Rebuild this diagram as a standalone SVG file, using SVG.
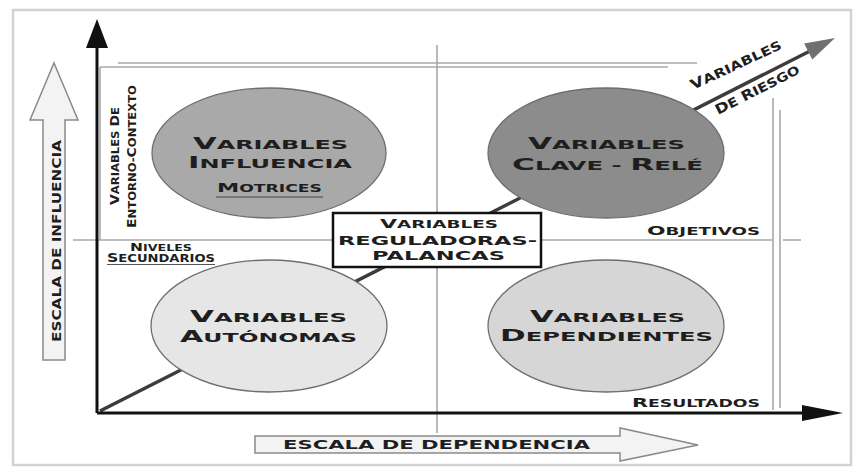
<svg xmlns="http://www.w3.org/2000/svg" width="856" height="470" viewBox="0 0 856 470">
<style>
text{font-family:"DejaVu Sans","Liberation Sans",sans-serif;fill:#1e1e1e}
.big{font-size:16px}
.sm{font-size:12.5px;font-weight:bold}
.lbl{font-size:10px;font-weight:bold}
.lblb{font-size:12px;font-weight:bold}
.grid{stroke:#a8a8a8;stroke-width:1.6;fill:none}
.ell{stroke:#6e6e6e;stroke-width:1.3}
.hollow{fill:#f3f3f3;stroke:#8a8a8a;stroke-width:1.5}
</style>
<rect x="13" y="10" width="838" height="455" fill="#fff" stroke="#d2d2d2" stroke-width="2.5"/>

<g id="grid">
<line class="grid" x1="118" y1="63" x2="697" y2="63"/>
<line class="grid" x1="100" y1="67" x2="668" y2="67" stroke="#c4c4c4"/>
<line class="grid" x1="100" y1="67" x2="100" y2="240"/>
<line class="grid" x1="437" y1="45" x2="437" y2="433"/>
<line class="grid" x1="73" y1="240" x2="773" y2="240"/>
<line class="grid" x1="783" y1="240" x2="801" y2="240"/>
<line class="grid" x1="773" y1="98" x2="773" y2="410"/>
<line class="grid" x1="780" y1="110" x2="780" y2="408" stroke="#c8c8c8"/>
</g>

<g id="scale-influencia">
<polygon class="hollow" points="54,63 78,120 65,120 65,360 43,360 43,120 30,120"/>
<text class="lblb" transform="translate(61,342) rotate(-90)" textLength="202" lengthAdjust="spacingAndGlyphs">ESCALA DE INFLUENCIA</text>
</g>

<g id="scale-dependencia">
<polygon class="hollow" points="255,436 620,436 620,428 698,445 620,461 620,453 255,453"/>
<text class="lblb" x="283" y="449" textLength="307" lengthAdjust="spacingAndGlyphs">ESCALA DE DEPENDENCIA</text>
</g>

<g id="connectors">
<line x1="100" y1="411" x2="812" y2="50" stroke="#3c3c3c" stroke-width="3.5"/>
<polygon points="835,38 812.3,59.6 804.1,43.6" fill="#707070"/>
<line x1="97" y1="413" x2="97" y2="45" stroke="#111" stroke-width="3"/>
<polygon points="97,19 108,48 86,48" fill="#111"/>
<line x1="97" y1="413" x2="805" y2="413" stroke="#111" stroke-width="3"/>
<polygon points="843,413 802,405 802,421" fill="#111"/>
</g>

<g id="riesgo-label">
<text class="sm" transform="translate(693,90) rotate(-25)" textLength="99" lengthAdjust="spacingAndGlyphs"><tspan font-size="14">V</tspan>ARIABLES</text>
<text class="sm" transform="translate(718,115) rotate(-27)" textLength="93" lengthAdjust="spacingAndGlyphs"><tspan font-size="14">D</tspan>E <tspan font-size="14">R</tspan>IESGO</text>
</g>

<g id="entorno-label">
<text class="lbl" transform="translate(119,205) rotate(-90)" textLength="98" lengthAdjust="spacingAndGlyphs"><tspan font-size="12">V</tspan>ARIABLES <tspan font-size="12">D</tspan>E</text>
<text class="lbl" transform="translate(136,228) rotate(-90)" textLength="143" lengthAdjust="spacingAndGlyphs"><tspan font-size="12">E</tspan>NTORNO-<tspan font-size="12">C</tspan>ONTEXTO</text>
</g>

<g id="niveles-label">
<text class="lbl" x="130" y="251" textLength="62" lengthAdjust="spacingAndGlyphs" style="font-size:9px"><tspan style="font-size:11px">N</tspan>IVELES</text>
<text class="lbl" x="107" y="262" textLength="108" lengthAdjust="spacingAndGlyphs"><tspan font-size="12">S</tspan>ECUNDARIOS</text>
<line x1="107" y1="264.5" x2="215" y2="264.5" stroke="#555" stroke-width="1"/>
</g>

<g id="objetivos-label">
<text class="lbl" x="647" y="235" textLength="113" lengthAdjust="spacingAndGlyphs"><tspan font-size="12">O</tspan>BJETIVOS</text>
</g>
<g id="resultados-label">
<text class="lbl" x="632" y="407" textLength="128" lengthAdjust="spacingAndGlyphs"><tspan font-size="12">R</tspan>ESULTADOS</text>
</g>

<g id="node-influencia">
<ellipse class="ell" cx="269" cy="153" rx="117" ry="65" fill="#a9a9a9"/>
<text class="sm" x="193" y="149" textLength="155" lengthAdjust="spacingAndGlyphs"><tspan class="big">V</tspan>ARIABLES</text>
<text class="sm" x="188" y="168" textLength="164" lengthAdjust="spacingAndGlyphs"><tspan class="big">I</tspan>NFLUENCIA</text>
<text class="lbl" x="217" y="192" textLength="105" lengthAdjust="spacingAndGlyphs"><tspan font-size="13">M</tspan>OTRICES</text>
<line x1="216" y1="197" x2="323" y2="197" stroke="#444" stroke-width="1"/>
</g>

<g id="node-clave">
<ellipse class="ell" cx="606" cy="153" rx="118" ry="65" fill="#8c8c8c"/>
<text class="sm" x="528" y="149" textLength="157" lengthAdjust="spacingAndGlyphs"><tspan class="big">V</tspan>ARIABLES</text>
<text class="sm" x="512" y="170" textLength="191" lengthAdjust="spacingAndGlyphs"><tspan class="big">C</tspan>LAVE - <tspan class="big">R</tspan>ELÉ</text>
</g>

<g id="node-autonomas">
<ellipse class="ell" cx="269" cy="326" rx="118" ry="66" fill="#e6e6e6"/>
<text class="sm" x="190" y="322" textLength="157" lengthAdjust="spacingAndGlyphs"><tspan class="big">V</tspan>ARIABLES</text>
<text class="sm" x="180" y="342" textLength="177" lengthAdjust="spacingAndGlyphs"><tspan class="big">A</tspan>UTÓNOMAS</text>
</g>

<g id="node-dependientes">
<ellipse class="ell" cx="606" cy="326" rx="118" ry="66" fill="#d6d6d6"/>
<text class="sm" x="530" y="322" textLength="155" lengthAdjust="spacingAndGlyphs"><tspan class="big">V</tspan>ARIABLES</text>
<text class="sm" x="500" y="341" textLength="213" lengthAdjust="spacingAndGlyphs"><tspan class="big">D</tspan>EPENDIENTES</text>
</g>

<g id="node-reguladoras">
<rect x="333" y="213" width="208" height="54" fill="#fff" stroke="#111" stroke-width="2.5"/>
<text class="lbl" x="380" y="228" textLength="118" lengthAdjust="spacingAndGlyphs"><tspan font-size="12">V</tspan>ARIABLES</text>
<text class="sm" x="338" y="245" textLength="199" lengthAdjust="spacingAndGlyphs">REGULADORAS-</text>
<text class="sm" x="372" y="260" textLength="133" lengthAdjust="spacingAndGlyphs">PALANCAS</text>
</g>
</svg>
